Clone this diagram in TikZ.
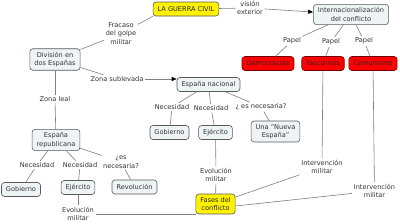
\documentclass[tikz,border=0pt]{standalone}
\usepackage{fontspec}
\setmainfont{DejaVu Sans}
\usetikzlibrary{arrows.meta}
\definecolor{boxfill}{HTML}{EEF3F6}
\definecolor{boxline}{HTML}{5A5A5A}
\definecolor{connc}{HTML}{808080}
\definecolor{txt}{HTML}{333333}
\newcommand{\mapfont}{\fontsize{6.6}{8.4}\selectfont}
\begin{document}
\begin{tikzpicture}[x=1pt,y=-1pt,
  box/.style={draw=boxline, fill=boxfill, rounded corners=3pt, line width=0.6pt,
    inner xsep=4.5pt, inner ysep=3.2pt, minimum height=14pt, align=center,
    text=txt, font=\mapfont},
  redbox/.style={box, fill=red, draw=red!45!black, text=black!85},
  yelbox/.style={box, fill=yellow, text=black!85},
  lab/.style={fill=white, inner sep=1.5pt, align=center, text=txt, font=\mapfont},
  conn/.style={draw=connc, line width=0.6pt},
  arr/.style={conn, -{Triangle[length=5pt,width=4pt,color=black]}}]
\useasboundingbox[fill=white] (0,0) rectangle (400,223);

% nodes
\node[yelbox] (guerra) at (186,9) {LA GUERRA CIVIL};
\node[lab] (vision) at (250,8) {visión\\exterior};
\node[box] (inter) at (351,14.5) {Internacionalización\\del conflicto};
\node[lab] (p1) at (292,41) {Papel};
\node[lab] (p2) at (331,42) {Papel};
\node[lab] (p3) at (364,41) {Papel};
\node[redbox] (demo) at (268,63.5) {Democracias};
\node[redbox] (fasc) at (323,63.5) {Fascismos};
\node[redbox] (comu) at (373,63.5) {Comunismo};
\node[lab] (int1) at (322,167) {Intervención\\militar};
\node[lab] (int2) at (374.5,191) {Intervención\\militar};
\node[yelbox] (fases) at (215.5,204) {Fases del\\conflicto};
\node[lab] (evn) at (216,175) {Evolución\\militar};
\node[box] (ejn) at (215.5,132.5) {Ejército};
\node[box] (nac) at (208.5,84.5) {España nacional};
\node[lab] (zs) at (117,79) {Zona sublevada};
\node[lab] (nn1) at (172,107) {Necesidad};
\node[lab] (nn2) at (211,108) {Necesidad};
\node[lab] (nn3) at (261,107) {¿ es necesaria?};
\node[box] (gobn) at (169.5,132.5) {Gobierno};
\node[box] (nueva) at (275.5,131.5) {Una "Nueva\\España"};
\node[box] (div) at (55,59.5) {División en\\dos Españas};
\node[lab] (fra) at (121,33.5) {Fracaso\\del golpe\\militar};
\node[lab] (zl) at (55,99) {Zona leal};
\node[box] (rep) at (56,140) {España\\republicana};
\node[lab] (nr1) at (37,165) {Necesidad};
\node[lab] (nr2) at (80,165) {Necesidad};
\node[lab] (nr3) at (121,162) {¿es\\necesaria?};
\node[box] (gobr) at (21,189.5) {Gobierno};
\node[box] (ejr) at (78,187.5) {Ejército};
\node[box] (revo) at (134.5,187) {Revolución};
\node[lab] (evr) at (78,214) {Evolución\\militar};

% connectors
\begin{scope}[on background layer/.try]
\end{scope}
\draw[conn] (guerra.south west) -- (fra);
\draw[conn] (fra) -- (div);
\draw[conn] (guerra) -- (vision);
\draw[arr] (vision) -- (inter);
\draw[conn] (inter) -- (p1);
\draw[conn] (p1) -- (demo);
\draw[conn] (inter) -- (p2);
\draw[conn] (p2) -- (fasc);
\draw[conn] (inter) -- (p3);
\draw[conn] (p3) -- (comu);
\draw[conn] (fasc) -- (int1);
\draw[conn] (comu) -- (int2);
\draw[conn] (int1) -- (fases);
\draw[conn] (int2) -- ([yshift=-2pt]fases.east);
\draw[conn] (div) -- (zs);
\draw[arr] (zs) -- (zs -| nac.west);
\draw[conn] (div) -- (zl);
\draw[conn] (zl) -- (rep);
\draw[conn] (nac) -- (nn1);
\draw[conn] (nn1) -- (gobn);
\draw[conn] (nac) -- (nn2);
\draw[conn] (nn2) -- (ejn);
\draw[conn] (nac) -- (nn3);
\draw[conn] (nn3) -- (nueva);
\draw[conn] (ejn) -- (evn);
\draw[conn] (evn) -- (fases);
\draw[conn] (rep) -- (nr1);
\draw[conn] (nr1) -- (gobr);
\draw[conn] (rep) -- (nr2);
\draw[conn] (nr2) -- (ejr);
\draw[conn] (rep) -- (nr3);
\draw[conn] (nr3) -- (revo);
\draw[conn] (ejr) -- (evr);
\draw[conn] (evr) -- (evr -| fases.west);
\end{tikzpicture}
\end{document}
